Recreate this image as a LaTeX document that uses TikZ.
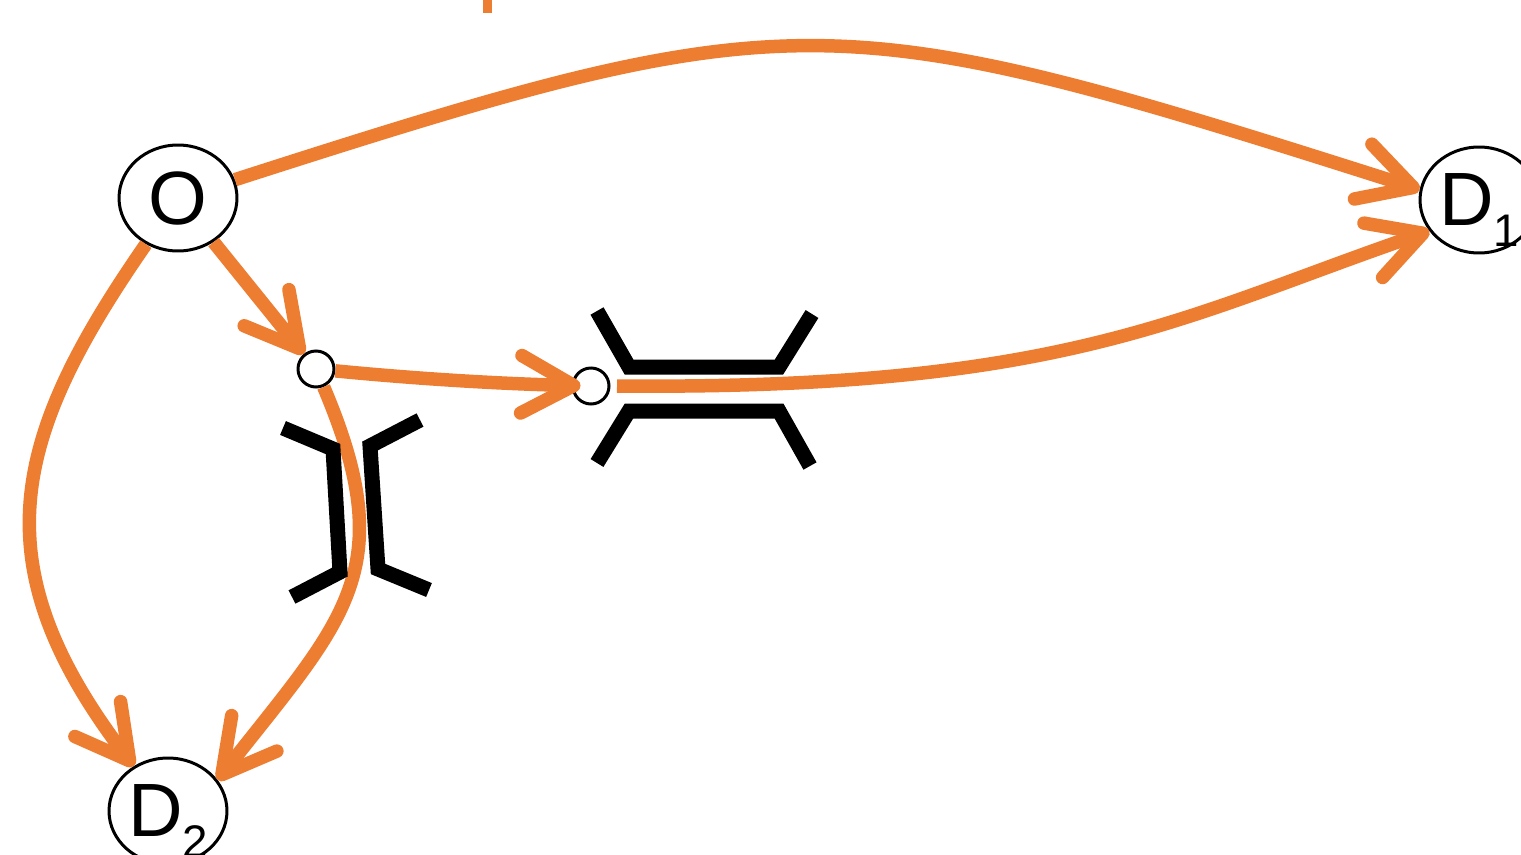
\documentclass[tikz,border=0pt]{standalone}
\usepackage{fontspec}
\setmainfont{Liberation Sans}
\usetikzlibrary{arrows.meta,shapes.geometric}
\definecolor{orng}{HTML}{ED7D31}
\newcommand\mysub[1]{\smash{\raisebox{-0.42cm}{\fontsize{26}{26}\selectfont #1}}}
\begin{document}
\begin{tikzpicture}[x=0.02cm,y=-0.02cm,
  stn/.style={draw,ellipse,line width=0.06cm,minimum width=2.36cm,minimum height=2.12cm,inner sep=0pt,font=\fontsize{43}{43}\selectfont},
  junc/.style={draw,circle,line width=0.06cm,minimum size=0.72cm,inner sep=0pt},
  flow/.style={draw=orng,line width=0.27cm,-{Straight Barb[length=1.05cm,width=1.15cm,round]}},
  wall/.style={line width=0.3cm,line join=miter}
]
\useasboundingbox (0,0) rectangle (1521,855);
\clip (0,0) rectangle (1521,855);
\node[stn] (O) at (178,198) {O};
\node[stn] (D1) at (1479,200) {D\mysub{1}};
\node[stn] (D2) at (168,811) {D\mysub{2}};
\node[junc] (A) at (316,369) {};
\node[junc] (B) at (591,386) {};
\coordinate (Bout) at (617,386);
\fill[orng] (483,0) rectangle (492,13);
\draw[flow] (O) .. controls (800,-2) and (830,2) .. (D1.170);
\draw[flow] (Bout) .. controls (1067,390) and (1182,316) .. (D1.212);
\draw[flow] (O) -- (A);
\draw[flow,shorten >=-0.18cm] (A) .. controls (430,380) and (510,384) .. (B);
\draw[flow] (A) .. controls (402,571) and (344,619) .. (D2.32);
\draw[flow] (O) .. controls (10,440) and (-20,565) .. (D2);
\draw[wall] (597,311) -- (629,367) -- (779,367) -- (812,314);
\draw[wall] (597,463) -- (629,411) -- (779,411) -- (810,466);
\draw[wall] (283,428) -- (333,449) -- (340,572) -- (292,597);
\draw[wall] (420,420) -- (370,446) -- (378,569) -- (429,590);
\end{tikzpicture}
\end{document}
